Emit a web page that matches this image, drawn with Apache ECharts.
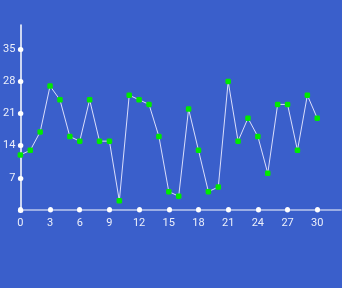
<!DOCTYPE html>
<html><head><meta charset="utf-8">
<script src="https://cdn.jsdelivr.net/npm/echarts@6/dist/echarts.min.js"></script>
<style>html,body{margin:0;padding:0;background:#3a5fcb;}#c{width:342px;height:288px;}</style>
</head><body><div id="c"></div>
<script>
var xValues = [0,1,2,3,4,5,6,7,8,9,10,11,12,13,14,15,16,17,18,19,20,21,22,23,24,25,26,27,28,29,30];
var yValues = [12,13,17,27,24,16,15,24,15,15,2,25,24,23,16,4,3,22,13,4,5,28,15,20,16,8,23,23,13,25,20];
var xTicks = [0,3,6,9,12,15,18,21,24,27,30];
var yTicks = [0,7,14,21,28,35];
var yLabels = [7,14,21,28,35];

var chart = echarts.init(document.getElementById('c'));
chart.setOption({
  backgroundColor: '#3a5fcb',
  animation: false,
  grid: {left: 19, right: 1, top: 25, bottom: 78, containLabel: false},
  xAxis: {
    type: 'value', min: 0, max: 32.4,
    splitLine: {show: false},
    axisLine: {lineStyle: {color: 'rgba(255,255,255,0.65)', width: 1.5}},
    axisTick: {show: true, customValues: xTicks, length: 0.5, inside: true, lineStyle: {color: '#ffffff', width: 5, cap: 'round'}},
    axisLabel: {customValues: xTicks, color: 'rgba(255,255,255,0.9)', fontSize: 11, fontFamily: 'Roboto', margin: 8}
  },
  yAxis: {
    type: 'value', min: 0, max: 40.3,
    splitLine: {show: false},
    axisLine: {show: true, lineStyle: {color: '#ffffff', width: 1.5}},
    axisTick: {show: true, customValues: yTicks, length: 0.5, inside: true, lineStyle: {color: '#ffffff', width: 5, cap: 'round'}},
    axisLabel: {customValues: yLabels, color: 'rgba(255,255,255,0.9)', fontSize: 11, fontFamily: 'Roboto', margin: 5}
  },
  series: [{
    type: 'line',
    data: xValues.map(function(x, i){ return [x, yValues[i]]; }),
    symbol: 'roundRect', symbolSize: 5.5, showAllSymbol: true,
    lineStyle: {color: 'rgba(235,235,255,0.9)', width: 1},
    itemStyle: {color: '#00ea00', borderWidth: 0}
  }]
});
</script></body></html>
